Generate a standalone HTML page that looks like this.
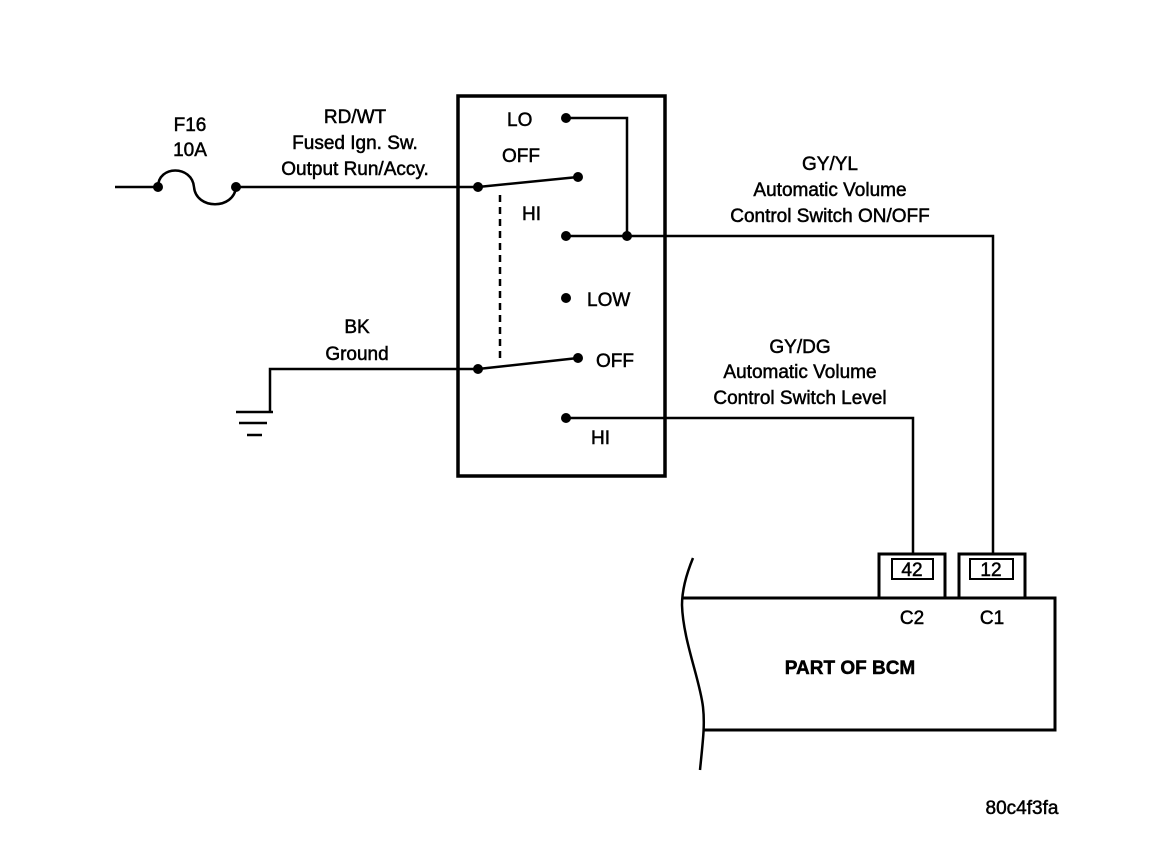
<!DOCTYPE html>
<html><head><style>body{margin:0;background:#fff}svg{display:block}text{font-family:"Liberation Sans",Arial,sans-serif;font-size:19px;fill:#000;stroke:#000;stroke-width:0.5}</style></head><body>
<svg width="1152" height="866" viewBox="0 0 1152 866" xmlns="http://www.w3.org/2000/svg">
<g stroke="#000" fill="none" stroke-width="2.5">
<rect x="458" y="96" width="207" height="380" stroke-width="3.5"/>
<line x1="115" y1="187" x2="158" y2="187"/>
<path d="M158,187 C158,165 192,165 194,187 C196,210 234,210 236,187"/>
<line x1="236" y1="187" x2="478" y2="187"/>
<line x1="478" y1="187" x2="578" y2="177"/>
<polyline points="566,118 627,118 627,236"/>
<polyline points="566,236 993,236 993,555"/>
<line x1="500" y1="195" x2="500" y2="362" stroke-dasharray="7,5"/>
<line x1="478" y1="369" x2="578" y2="358"/>
<polyline points="478,369 270,369 270,412"/>
<line x1="236" y1="412" x2="273" y2="412"/>
<line x1="239" y1="423" x2="267" y2="423"/>
<line x1="247" y1="435" x2="262" y2="435"/>
<polyline points="566,418 913,418 913,555"/>
<rect x="879" y="554" width="66" height="44" stroke-width="3"/>
<rect x="892" y="559" width="41" height="20" stroke-width="2"/>
<rect x="959" y="554" width="66" height="44" stroke-width="3"/>
<rect x="970" y="559" width="43" height="20" stroke-width="2"/>
<polyline points="682,598 1055,598 1055,730 704,730" stroke-width="3"/>
<path d="M693,558 C686,575 682,590 682,605 C683,640 700,680 703,707 C705,725 703,740 700,770"/>
</g>
<g fill="#000">
<circle cx="158" cy="187" r="5"/><circle cx="236" cy="187" r="5"/>
<circle cx="478" cy="187" r="5"/><circle cx="578" cy="177" r="5"/>
<circle cx="566" cy="118" r="5"/><circle cx="566" cy="236" r="5"/><circle cx="627" cy="236" r="5"/>
<circle cx="566" cy="298" r="5"/><circle cx="478" cy="369" r="5"/><circle cx="578" cy="358" r="5"/>
<circle cx="566" cy="418" r="5"/>
</g>
<g text-anchor="middle">
<text x="190" y="131">F16</text><text x="190" y="156">10A</text>
<text x="355" y="123">RD/WT</text><text x="355" y="149">Fused Ign. Sw.</text><text x="355" y="175">Output Run/Accy.</text>
<text x="357" y="333">BK</text><text x="357" y="360">Ground</text>
<text x="830" y="170">GY/YL</text><text x="830" y="196">Automatic Volume</text><text x="830" y="222">Control Switch ON/OFF</text>
<text x="800" y="353">GY/DG</text><text x="800" y="378">Automatic Volume</text><text x="800" y="404">Control Switch Level</text>
<text x="912" y="576" font-size="17">42</text><text x="991" y="576" font-size="17">12</text>
<text x="912" y="624">C2</text><text x="992" y="624">C1</text>
<text x="850" y="674" style="font-weight:bold">PART OF BCM</text>
<text x="1022" y="814">80c4f3fa</text>
</g>
<text x="507" y="126">LO</text><text x="502" y="162">OFF</text><text x="522" y="220">HI</text>
<text x="587" y="306">LOW</text><text x="596" y="367">OFF</text><text x="591" y="444">HI</text>
</svg>
</body></html>
